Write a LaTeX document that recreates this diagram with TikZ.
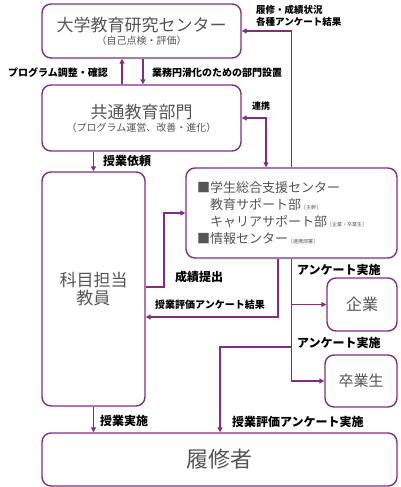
\documentclass[tikz,border=0pt]{standalone}
\usepackage{fontspec}
\setmainfont{Noto Sans CJK JP}
\usepackage{tikz}
\usetikzlibrary{arrows.meta}
\definecolor{murasaki}{RGB}{128,45,130}
\definecolor{sumi}{RGB}{85,85,85}
\newcommand{\midashi}[1]{{\fontsize{17}{20}\selectfont #1}}
\newcommand{\hosoku}[1]{{\fontsize{10}{12}\selectfont #1}}
\newcommand{\chu}[1]{{\fontsize{5}{6}\selectfont #1}}

\begin{document}
\begin{tikzpicture}[x=1pt,y=-1pt,
  box/.style={draw=murasaki,line width=1.4pt,rounded corners=9pt,text=sumi,align=center,inner sep=0pt},
  flow/.style={draw=murasaki,line width=1.3pt,-{Triangle[length=5pt,width=5pt]}},
  lab/.style={font=\bfseries\fontsize{10}{12}\selectfont,inner sep=0pt},
  labl/.style={font=\bfseries\fontsize{12}{14}\selectfont,inner sep=0pt}]
\useasboundingbox (0,0) rectangle (400,487);
% boxes
\node[box,minimum width=199pt,minimum height=54pt] (center) at (141.5,31)
  {\midashi{大学教育研究センター}\\[1pt]\hosoku{（自己点検・評価）}};
\node[box,minimum width=199pt,minimum height=66pt] (kyotsu) at (141.5,118)
  {\midashi{共通教育部門}\\[1pt]\hosoku{（プログラム運営、改善・進化）}};
\node[box,minimum width=103pt,minimum height=234pt] (kamoku) at (93.5,289)
  {\midashi{科目担当}\\[2pt]\midashi{教員}};
\node[box,minimum width=211pt,minimum height=90pt] (shien) at (291.5,213) {};
\node[text=sumi,anchor=west,align=left,inner sep=0pt,font=\fontsize{13}{17}\selectfont] (shientxt) at (197,213)
  {■学生総合支援センター\\
   \hspace*{13pt}教育サポート部\chu{［主幹］}\\
   \hspace*{13pt}キャリアサポート部\chu{［企業・卒業生］}\\
   ■情報センター\chu{［連携部署］}};
\node[box,minimum width=70pt,minimum height=53pt,font=\fontsize{16}{18}\selectfont] (kigyo) at (362,304.5) {企業};
\node[box,minimum width=72pt,minimum height=52pt,font=\fontsize{15}{18}\selectfont] (sotsu) at (361,381) {卒業生};
\node[box,minimum width=355pt,minimum height=53pt,font=\fontsize{22}{24}\selectfont] (rishu) at (219.5,459.5) {履修者};
% connectors
\coordinate (s1) at (164,287);
\coordinate (r1) at (278,317);
\coordinate (b1) at (220,347);
\draw[flow] ([xshift=-19.5pt]kyotsu.north) -- ([xshift=-19.5pt]center.south);
\draw[flow] ([xshift=1.5pt]center.south) -- ([xshift=1.5pt]kyotsu.north);
\draw[flow] (shien.north) |- (center.east);
\draw[flow,{Triangle[length=5pt,width=5pt]}-{Triangle[length=5pt,width=5pt]}] (kyotsu.east) -| ([xshift=-25.5pt]shien.north);
\draw[flow] (kyotsu.south -| kamoku.north) -- (kamoku.north);
\draw[flow] (kamoku.east |- s1) -- (s1) |- (shien.west);
\draw[flow] (shien.south -| r1) -- (r1) -- (kamoku.east |- r1);
\draw[flow] (shien.south) |- (sotsu.west);
\draw[flow] (shien.south |- kigyo.west) -- (kigyo.west);
\draw[flow] (shien.south |- b1) -- (b1) -- (b1 |- rishu.north);
\draw[flow] (kamoku.south) -- (kamoku.south |- rishu.north);
% labels
\node[lab,anchor=east] (l1) at (108,73) {プログラム調整・確認};
\node[lab,anchor=west] (l2) at (152,73) {業務円滑化のための部門設置};
\node[lab,anchor=west,align=left,font=\bfseries\fontsize{9.5}{12.5}\selectfont] (l3) at (256,16) {履修・成績状況\\各種アンケート結果};
\node[lab,anchor=west,font=\bfseries\fontsize{9}{11}\selectfont] (l4) at (252,106) {連携};
\node[labl,anchor=west] (l5) at (103,161) {授業依頼};
\node[labl,anchor=west] (l6) at (175,277) {成績提出};
\node[lab,anchor=west] (l7) at (155,305) {授業評価アンケート結果};
\node[labl,anchor=west] (l8) at (297,270) {アンケート実施};
\node[labl,anchor=west] (l9) at (297,343) {アンケート実施};
\node[labl,anchor=west] (l10) at (100,421) {授業実施};
\node[labl,anchor=west] (l11) at (232,422) {授業評価アンケート実施};
\end{tikzpicture}
\end{document}
